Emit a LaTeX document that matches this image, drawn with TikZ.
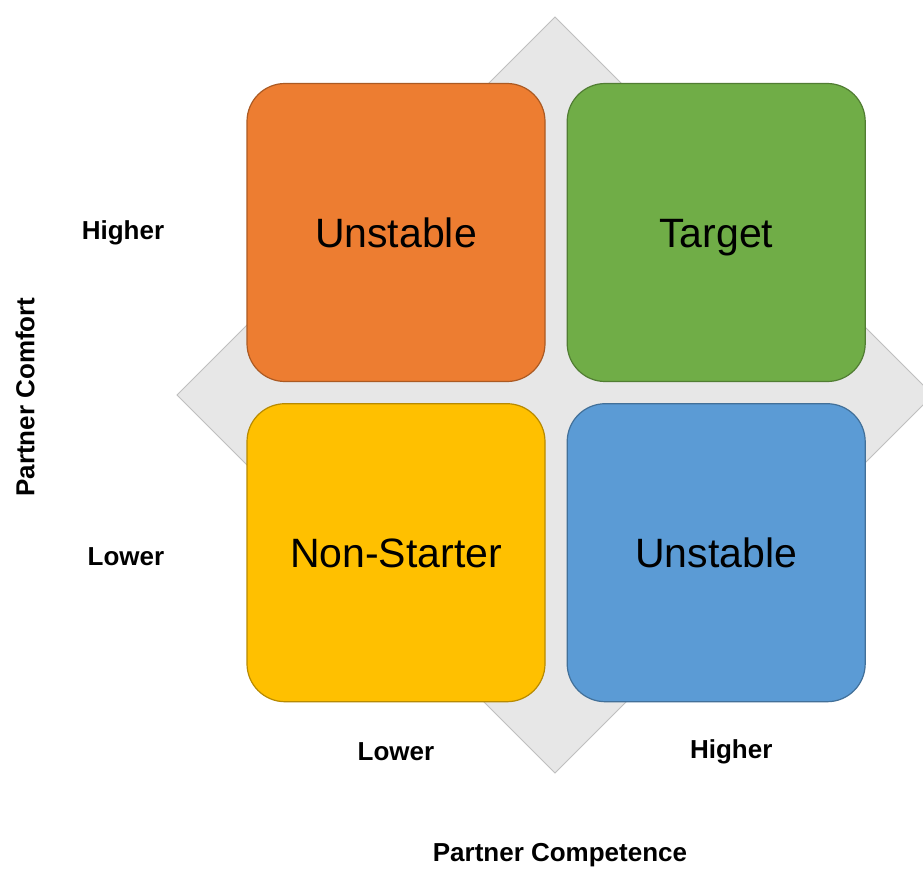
\documentclass[tikz,border=0pt]{standalone}
\usepackage{fontspec}
\setmainfont{Liberation Sans}
\usetikzlibrary{positioning}
\definecolor{qorange}{HTML}{ED7D31}
\definecolor{qgreen}{HTML}{70AD47}
\definecolor{qyellow}{HTML}{FFC000}
\definecolor{qblue}{HTML}{5B9BD5}
\definecolor{diamondfill}{HTML}{E7E7E7}
\definecolor{diamondline}{HTML}{BFBFBF}

\begin{document}
\begin{tikzpicture}[
  x=1pt, y=-1pt,
  quad/.style={rectangle, rounded corners=38pt, draw=#1!72!black, fill=#1,
               line width=1.2pt, minimum width=298pt, minimum height=298pt,
               text height=30pt, text depth=1pt,
               font=\fontsize{41}{48}\selectfont, text=black},
  lbl/.style={font=\fontsize{26}{30}\selectfont\bfseries, inner sep=0pt},
  node distance=21pt and 21pt
]

% Frame
\clip (0,0) rectangle (923,868);
\fill[white] (0,0) rectangle (923,868);

% Diamond behind the quadrants
\draw[fill=diamondfill, draw=diamondline, line width=0.8pt]
  (555,17) -- (933,395) -- (555,773) -- (177,395) -- cycle;

% Quadrants
\node[quad=qorange] (unstableA) at (396,232.5) {Unstable};
\node[quad=qgreen, right=of unstableA] (target) {Target};
\node[quad=qyellow, below=of unstableA] (nonstarter) {Non-Starter};
\node[quad=qblue, right=of nonstarter] (unstableB) {Unstable};

% Comfort axis
\node[lbl, left=82pt of unstableA] (comfhigh) {Higher};
\node[lbl, left=82pt of nonstarter, yshift=-4pt] (comflow) {Lower};
\node[lbl, rotate=90] (comfort) at (25,397) {Partner Comfort};

% Competence axis
\node[lbl, below=40pt of nonstarter] (complow) {Lower};
\node[lbl, below=37pt of unstableB, xshift=15pt] (comphigh) {Higher};
\node[lbl, anchor=base] (competence) at (560,861) {Partner Competence};

\end{tikzpicture}
\end{document}
